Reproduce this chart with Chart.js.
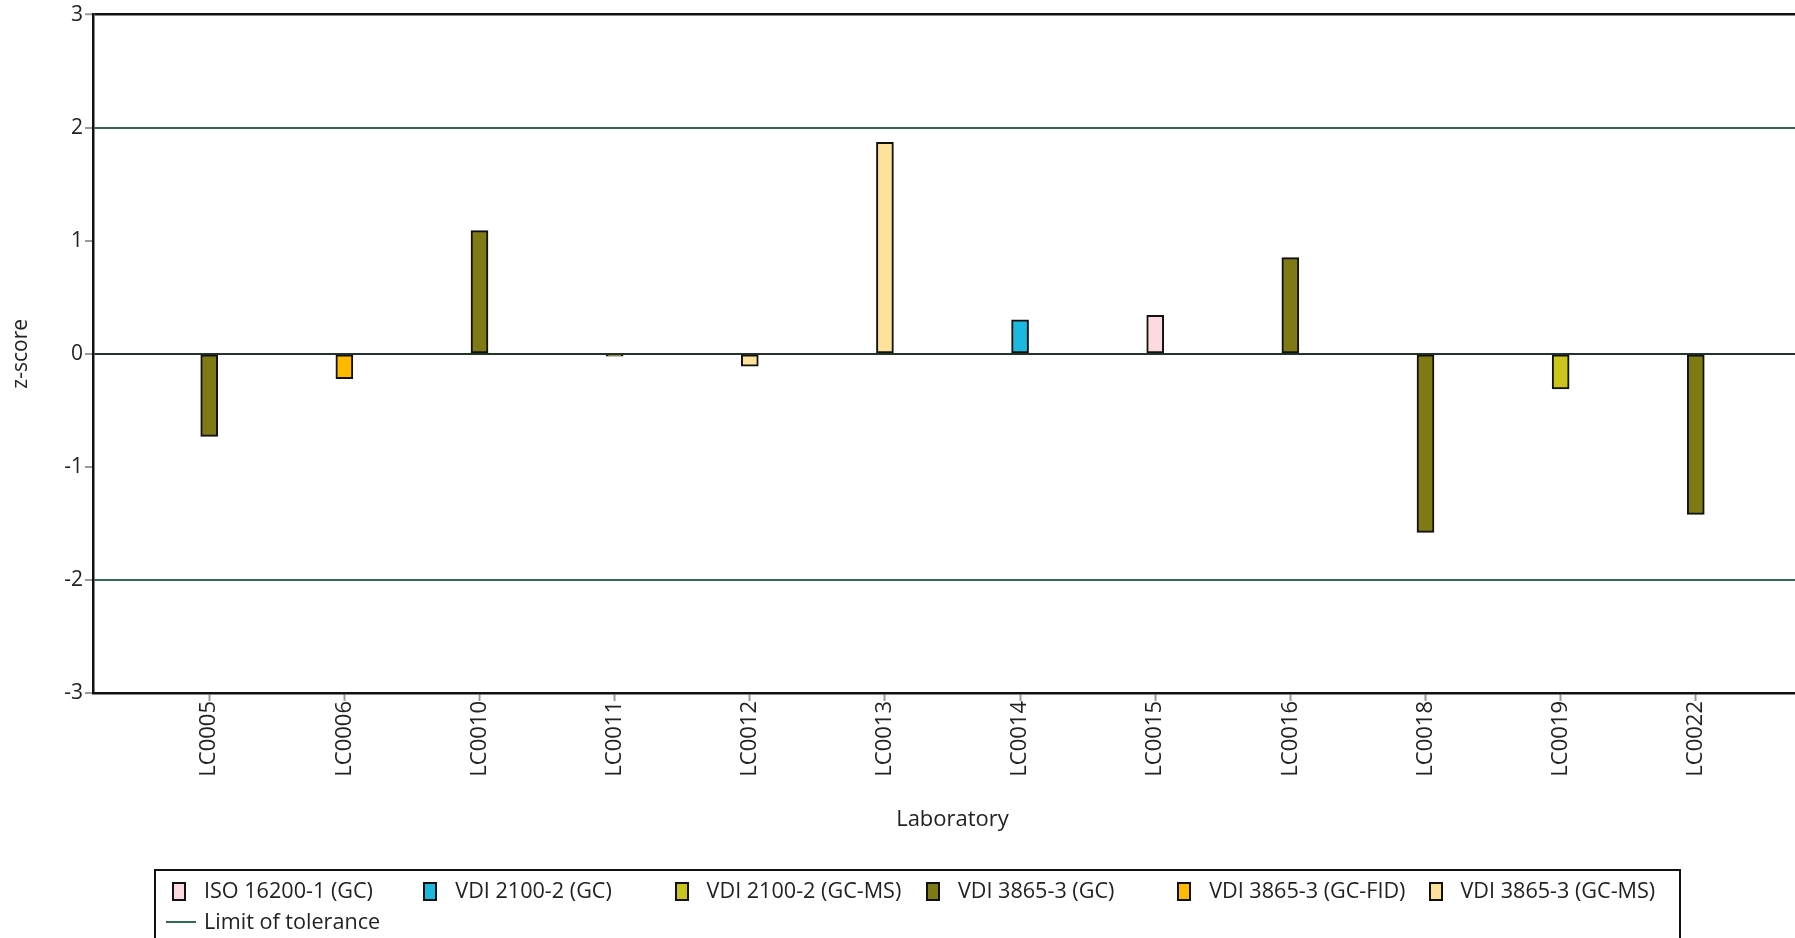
<!DOCTYPE html>
<html>
<head>
<meta charset="utf-8">
<script src="https://cdn.jsdelivr.net/npm/chart.js@4/dist/chart.umd.min.js"></script>
<style>
html,body{margin:0;padding:0;background:#fff;overflow:hidden;width:1795px;height:938px}
#wrap{position:relative;width:1812px;height:938px}
#c{position:absolute;left:0;top:0}
#legend{position:absolute;left:154px;top:869px;width:1527px;height:120px;border:2px solid #111;box-sizing:border-box;font-family:'Open Sans','Noto Sans',sans-serif;font-size:21.6px;color:#222}
.li{position:absolute;white-space:nowrap;line-height:24px}
.sw{position:absolute;width:14px;height:19px;box-sizing:border-box;border:2px solid #111}
.ln{position:absolute;width:30px;height:2.5px;background:#2E6B50}
</style>
</head>
<body>
<div id="wrap">
<canvas id="c" width="1812" height="938"></canvas>
<div id="legend"></div>
</div>
<script>
const labs = ['LC0005','LC0006','LC0010','LC0011','LC0012','LC0013','LC0014','LC0015','LC0016','LC0018','LC0019','LC0022'];
const zScores = [-0.73,-0.22,1.09,-0.02,-0.11,1.87,0.30,0.34,0.85,-1.58,-0.31,-1.42];
const methodNames = ['ISO 16200-1 (GC)','VDI 2100-2 (GC)','VDI 2100-2 (GC-MS)','VDI 3865-3 (GC)','VDI 3865-3 (GC-FID)','VDI 3865-3 (GC-MS)'];
const methodColors = ['#FCDAE0','#1BB9DF','#CBC41D','#807A15','#FFBA00','#FFE29A'];
const labMethod = [3,4,3,3,5,5,1,0,3,3,2,3];
const toleranceLimits = [-2, 2];
const toleranceLabel = 'Limit of tolerance';
const yMin = -3, yMax = 3;

const FONT = "'Open Sans','Noto Sans',sans-serif";

new Chart(document.getElementById('c'), {
  type: 'bar',
  data: {
    datasets: [{
      label: 'z-score',
      data: labs.map((l, i) => ({x: i, y: zScores[i]})),
      backgroundColor: labMethod.map(m => methodColors[m]),
      borderColor: '#111',
      borderWidth: 2,
      borderSkipped: false,
      barThickness: 17,
      grouped: false
    }]
  },
  options: {
    responsive: false,
    animation: false,
    devicePixelRatio: 1,
    layout: {padding: {left: 0, right: 0, top: 14, bottom: 95}},
    plugins: {legend: {display: false}, tooltip: {enabled: false}},
    scales: {
      x: {
        type: 'linear',
        offset: false,
        min: -0.86,
        max: 11.86,
        afterBuildTicks: s => { s.ticks = labs.map((_, i) => ({value: i})); },
        afterFit: s => { s.height = 150; },
        ticks: {
          callback: v => labs[v],
          autoSkip: false,
          minRotation: 90,
          maxRotation: 90,
          padding: 0,
          color: '#222',
          font: {family: FONT, size: 22}
        },
        grid: {display: true, offset: false, drawOnChartArea: false, drawTicks: true, tickLength: 8, tickColor: '#999', tickWidth: 2},
        border: {display: true, color: '#111', width: 2.5},
        title: {display: true, text: 'Laboratory', color: '#222', font: {family: FONT, size: 22}, padding: {top: 4, bottom: 10}}
      },
      y: {
        min: yMin,
        max: yMax,
        afterFit: s => { s.width = 93; },
        ticks: {stepSize: 1, padding: 2, color: '#222', font: {family: FONT, size: 21}},
        grid: {
          color: ctx => {
            const v = ctx.tick.value;
            if (toleranceLimits.includes(v)) return '#2E6B50';
            if (v === 0) return '#23352b';
            if (v === yMax) return '#111';
            return 'rgba(0,0,0,0)';
          },
          lineWidth: ctx => (ctx.tick.value === yMax ? 2.5 : 2),
          drawTicks: true, tickLength: 8, tickColor: '#999', tickWidth: 2
        },
        border: {display: true, color: '#111', width: 2.5},
        title: {display: true, text: 'z-score', color: '#222', font: {family: FONT, size: 21}, padding: {top: 8, bottom: 0}}
      }
    }
  }
});

// legend built from the series arrays
const lg = document.getElementById('legend');
const colW = 251.3, x0 = 16, row1 = 20, row2 = 51;
methodNames.forEach((name, i) => {
  const sw = document.createElement('div');
  sw.className = 'sw';
  sw.style.left = (x0 + colW * i) + 'px';
  sw.style.top = (row1 - 9.5) + 'px';
  sw.style.background = methodColors[i];
  lg.appendChild(sw);
  const t = document.createElement('div');
  t.className = 'li';
  t.style.left = (x0 + 32 + colW * i) + 'px';
  t.style.top = (row1 - 13) + 'px';
  t.textContent = name;
  lg.appendChild(t);
});
const ln = document.createElement('div');
ln.className = 'ln';
ln.style.left = '10px';
ln.style.top = (row2 - 1.25) + 'px';
lg.appendChild(ln);
const t2 = document.createElement('div');
t2.className = 'li';
t2.style.left = '48px';
t2.style.top = (row2 - 13) + 'px';
t2.textContent = toleranceLabel;
lg.appendChild(t2);
</script>
</body>
</html>
